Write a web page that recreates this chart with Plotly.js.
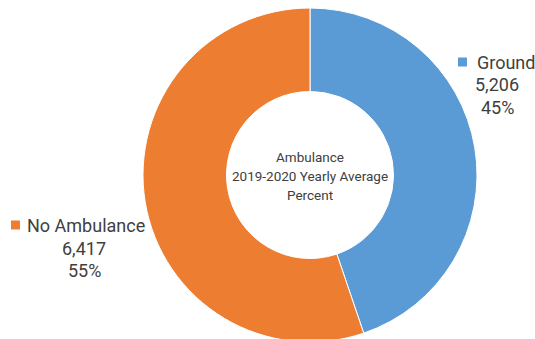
<!DOCTYPE html>
<html><head><meta charset="utf-8">
<script src="https://cdn.plot.ly/plotly-3.0.1.min.js"></script>
<style>html,body{margin:0;padding:0;overflow:hidden;background:#fff}</style>
</head><body><div id="chart" style="width:535px;height:342px"></div>
<script>
const categories = ["Ground", "No Ambulance"];
const values = [5206, 6417];
const percents = ["45%", "55%"];
const colors = ["#5B9BD5", "#ED7D31"];
const centerLines = ["Ambulance", "2019-2020 Yearly Average", "Percent"];

const W = 535, H = 342;
const px = x => x / W, py = y => 1 - y / H;
const fmt = v => v.toLocaleString('en-US');

const trace = {
  type: 'pie', labels: categories, values: values, hole: 0.5,
  sort: false, direction: 'clockwise', rotation: 0,
  marker: {colors: colors, line: {color: '#fff', width: 1}},
  textinfo: 'none', hoverinfo: 'label+value+percent',
  domain: {x: [(310 - 167) / W, (310 + 167) / W], y: [0, 334 / H]}
};

const lblFont = {family: 'Roboto, sans-serif', size: 18, color: '#404040'};
const ann = [];
const shapes = [];
// label positions (pixels) per category
const lblPos = [
  {sq: 458, nameX: 475, numX: 497, y: 62},
  {sq: 11, nameX: 25, numX: 84, y: 225}
];
categories.forEach((c, i) => {
  const p = lblPos[i];
  shapes.push({type: 'rect', xref: 'paper', yref: 'paper', x0: px(p.sq), x1: px(p.sq + 9),
    y0: py(p.y + 4.5), y1: py(p.y - 4.5), fillcolor: colors[i], line: {width: 0}});
  ann.push({xref: 'paper', yref: 'paper', x: px(p.nameX), y: py(p.y), xanchor: 'left', yanchor: 'middle',
    text: c, showarrow: false, font: lblFont});
  ann.push({xref: 'paper', yref: 'paper', x: px(p.numX), y: py(p.y + 23), xanchor: 'center', yanchor: 'middle',
    text: fmt(values[i]), showarrow: false, font: lblFont});
  ann.push({xref: 'paper', yref: 'paper', x: px(p.numX), y: py(p.y + 45), xanchor: 'center', yanchor: 'middle',
    text: percents[i], showarrow: false, font: lblFont});
});
centerLines.forEach((t, i) => {
  ann.push({xref: 'paper', yref: 'paper', x: px(310), y: py(157 + i * 19), xanchor: 'center', yanchor: 'middle',
    text: t, showarrow: false, font: {family: 'Roboto, sans-serif', size: 13.5, color: '#404040'}});
});

Plotly.newPlot('chart', [trace], {
  width: W, height: H, margin: {l: 0, r: 0, t: 0, b: 0},
  showlegend: false, paper_bgcolor: '#fff', plot_bgcolor: '#fff',
  annotations: ann, shapes: shapes
}, {displayModeBar: false, staticPlot: true});
</script></body></html>
